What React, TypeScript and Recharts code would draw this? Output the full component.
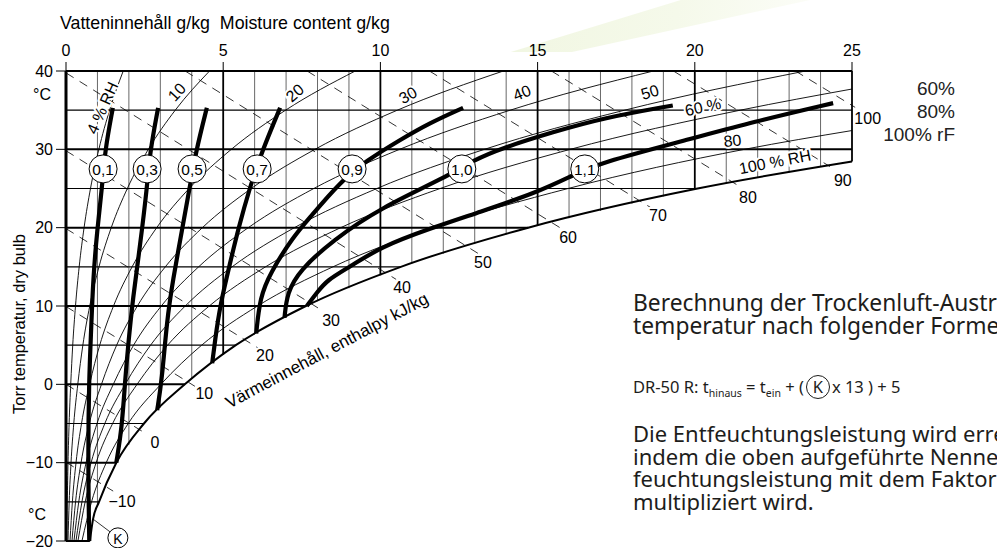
import React from 'react';
import { ComposedChart, Line, XAxis, YAxis, ReferenceLine, ReferenceDot } from 'recharts';

const FONT = '"Liberation Sans", Arial, Helvetica, sans-serif';
const NOTE_FONT = '"Noto Sans", Roboto, sans-serif';

// dry bulb temperatures (°C) the RH curves are read at
const TEMPS = [-20, -15, -10, -5, 0, 5, 10, 15, 20, 25, 30, 35, 40];
const X_TICKS = [0, 5, 10, 15, 20, 25];
const Y_TICKS = [-20, -10, 0, 10, 20, 30, 40];

// saturation curve, 100 % RH (moisture g/kg vs temp)
const SAT_W = [0.76, 0.86, 1.05, 1.6, 2.48, 3.78, 5.4, 7.63, 10.65, 14.7, 20.09, 25];
const SAT_T = [-20, -17.2, -15, -10, -5, 0, 5, 10, 15, 20, 25, 28.45];

// relative humidity curves, moisture g/kg at TEMPS
const RH_04 = [0.025, 0.041, 0.064, 0.099, 0.15, 0.214, 0.302, 0.419, 0.575, 0.779, 1.045, 1.386, 1.82];
const RH_10 = [0.063, 0.101, 0.16, 0.247, 0.375, 0.536, 0.755, 1.049, 1.439, 1.951, 2.618, 3.475, 4.566];
const RH_20 = [0.127, 0.203, 0.319, 0.494, 0.751, 1.073, 1.511, 2.102, 2.885, 3.916, 5.258, 6.985, 9.2];
const RH_30 = [0.19, 0.304, 0.479, 0.74, 1.128, 1.611, 2.27, 3.158, 4.338, 5.893, 7.919, 10.54, 13.91];
const RH_40 = [0.253, 0.406, 0.639, 0.987, 1.504, 2.15, 3.031, 4.218, 5.797, 7.882, 10.61, 14.13, 18.68];
const RH_50 = [0.317, 0.507, 0.798, 1.235, 1.882, 2.69, 3.793, 5.282, 7.265, 9.888, 13.31, 17.77, 23.52];
const RH_60 = [0.38, 0.609, 0.958, 1.483, 2.26, 3.231, 4.557, 6.346, 8.737, 11.9, 16.04, 21.45, 25];
const RH_60_T = [-20, -15, -10, -5, 0, 5, 10, 15, 20, 25, 30, 35, 37.7];
const RH_80 = [0.507, 0.812, 1.28, 1.979, 3.017, 4.315, 6.091, 8.49, 11.7, 15.97, 21.58, 25];
const RH_80_T = [-20, -15, -10, -5, 0, 5, 10, 15, 20, 25, 30, 32.4];

// K factor curves [moisture, temp]
const K_01 = [[1.49, 35.3], [1.24, 29.9], [1.15, 25.2], [0.99, 19.7], [0.86, 13.3], [0.8, 6.9], [0.73, 0.5], [0.7, -10], [0.74, -20]];
const K_03 = [[2.93, 35.3], [2.67, 29.7], [2.58, 25.2], [2.35, 17.5], [2.13, 11.1], [1.97, 4.7], [1.88, 0.5], [1.78, -5.5], [1.6, -10]];
const K_05 = [[4.48, 35.3], [4.13, 29.7], [3.94, 25.2], [3.69, 19.7], [3.4, 13.3], [3.21, 8.2], [3.05, 0.5], [2.9, -3.3]];
const K_07 = [[6.81, 35.3], [6.23, 29.7], [5.85, 25.2], [5.47, 19.7], [5.22, 15.5], [4.9, 10.1], [4.74, 5.6], [4.65, 2.7]];
const K_09 = [[12.63, 35.3], [11.58, 33.4], [10.62, 31.2], [9.57, 28.6], [8.71, 25.8], [7.76, 21.3], [7.22, 18.8], [6.49, 14.2], [6.17, 11.1], [6.05, 6.5]];
const K_10 = [[19.3, 35.6], [17.08, 34.0], [15.49, 32.2], [13.9, 30.2], [12.95, 28.6], [12.12, 26.5], [9.99, 22.5], [8.49, 18.4], [7.44, 14.6], [7.03, 11.7], [6.95, 8.5]];
const K_11 = [[24.4, 35.9], [21.85, 33.5], [19.75, 31.2], [16.98, 28.3], [16.03, 26.5], [14.98, 24.5], [13.17, 22.0], [11.58, 19.9], [9.99, 17.5], [9.03, 15.0], [8.3, 13.3], [7.98, 11.7], [7.66, 10.0]];
const K_NAMES = ['0,1', '0,3', '0,5', '0,7', '0,9', '1,0', '1,1'];
const K_LABEL_W = [1.18, 2.58, 4.01, 6.08, 9.1, 12.59, 16.5];
const K_LABEL_T = 27.5;

// enthalpy lines kJ/kg: start, end and label position [moisture, temp]
const ENTH = [-10, 0, 10, 20, 30, 40, 50, 60, 70, 80, 90, 100];
const ENTH_START = [[0, -9.94], [0, 0], [0, 9.94], [0, 19.88], [0, 29.82], [0, 39.76], [3.79, 40], [7.67, 40], [11.56, 40], [15.44, 40], [19.32, 40], [23.2, 40]];
const ENTH_END = [[1.5, -13.63], [2.45, -6.06], [4.1, -0.25], [6.1, 4.66], [8.2, 9.29], [10.5, 13.4], [13.1, 16.73], [15.8, 19.78], [18.6, 22.56], [21.5, 25.08], [24.3, 27.8], [25.1, 35.36]];
const ENTH_LABEL = [[1.78, -15.0], [2.83, -7.4], [4.4, -1.2], [6.33, 3.7], [8.43, 8.2], [10.69, 12.3], [13.26, 15.6], [15.97, 18.8], [18.83, 21.5], [21.69, 23.9], [24.71, 25.98], [25.5, 34.0]];

// RH curve labels
const RH_TEXT = ['4 % RH', '10', '20', '30', '40', '50', '60 %', '80', '100 % RH'];
const RH_TEXT_POS = [[1.16, 35.3], [3.53, 37.3], [7.28, 37.2], [10.88, 36.9], [14.5, 37.2], [18.57, 37.3], [20.26, 35.4], [21.2, 31.1], [22.55, 28.4]];
const RH_TEXT_ANGLE = [-66, -48, -41, -30, -22, -17, -12, -6, -11];

const toPts = (ws: number[], ts: number[]) => ws.map((w, i) => ({ w, t: ts[i] }));
const pairPts = (arr: number[][]) => arr.map(([w, t]) => ({ w, t }));

const RH_SERIES = [
  toPts(RH_04, TEMPS),
  toPts(RH_10, TEMPS),
  toPts(RH_20, TEMPS),
  toPts(RH_30, TEMPS),
  toPts(RH_40, TEMPS),
  toPts(RH_50, TEMPS),
  toPts(RH_60, RH_60_T),
  toPts(RH_80, RH_80_T),
];
const SAT_PTS = toPts(SAT_W, SAT_T);
const K_SERIES = [K_01, K_03, K_05, K_07, K_09, K_10, K_11].map(pairPts);

// where a grid line meets the saturation curve
function satTempAt(w: number) {
  for (let i = 0; i < SAT_W.length - 1; i++) {
    if (w >= SAT_W[i] && w <= SAT_W[i + 1]) {
      return SAT_T[i] + ((w - SAT_W[i]) / (SAT_W[i + 1] - SAT_W[i])) * (SAT_T[i + 1] - SAT_T[i]);
    }
  }
  return SAT_T[SAT_T.length - 1];
}
function satMoistAt(t: number) {
  if (t >= SAT_T[SAT_T.length - 1]) return 25;
  for (let i = 0; i < SAT_T.length - 1; i++) {
    if (t >= SAT_T[i] && t <= SAT_T[i + 1]) {
      return SAT_W[i] + ((t - SAT_T[i]) / (SAT_T[i + 1] - SAT_T[i])) * (SAT_W[i + 1] - SAT_W[i]);
    }
  }
  return SAT_W[0];
}

const V_GRID = Array.from({ length: 25 }, (_, i) => i + 1);
const H_GRID = Array.from({ length: 13 }, (_, i) => -20 + i * 5);

const textShape = (text: string, angle: number, size = 16) => (p: any) => (
  <text
    x={p.cx}
    y={p.cy}
    transform={`rotate(${angle} ${p.cx} ${p.cy})`}
    textAnchor="middle"
    dominantBaseline="central"
    fontSize={size}
    fontFamily={FONT}
    fill="#000"
    stroke="#fff"
    strokeWidth={4}
    paintOrder="stroke"
  >
    {text}
  </text>
);

const circleShape = (text: string, r: number, size: number) => (p: any) => (
  <g>
    <circle cx={p.cx} cy={p.cy} r={r} fill="#fff" stroke="#000" strokeWidth={1} />
    <text x={p.cx} y={p.cy + 1} textAnchor="middle" dominantBaseline="central" fontSize={size} fontFamily={FONT} fill="#000">
      {text}
    </text>
  </g>
);

const abs = (left: number, top: number, extra: React.CSSProperties = {}): React.CSSProperties => ({
  position: 'absolute',
  left,
  top,
  whiteSpace: 'nowrap',
  ...extra,
});

export default function App() {
  return (
    <div style={{ position: 'relative', width: 997, height: 548, overflow: 'hidden', background: '#fff' }}>
      <style>{'body{margin:0;overflow:hidden}'}</style>
      {/* faint leaf in the background */}
      <div
        style={{
          position: 'absolute',
          left: 470,
          top: 0,
          width: 340,
          height: 52,
          background: 'linear-gradient(100deg, #f0f6e0, #f5f9ea 60%, #fcfdf8)',
          clipPath: 'polygon(12% 100%, 62% 0, 100% 0, 30% 100%)',
        }}
      />
      <div style={{ position: 'absolute', left: 0, top: 0 }}>
        <ComposedChart width={997} height={548} margin={{ top: 41, right: 145, bottom: 7, left: 26 }}>
          <XAxis
            xAxisId={0}
            type="number"
            dataKey="w"
            orientation="top"
            domain={[0, 25]}
            ticks={X_TICKS}
            interval={0}
            height={30}
            axisLine={false}
            tickSize={9}
            tickMargin={6}
            tickLine={{ stroke: '#000', strokeWidth: 1 }}
            tick={{ fill: '#000', fontSize: 16, fontFamily: FONT }}
          />
          <YAxis
            yAxisId={0}
            type="number"
            domain={[-20, 40]}
            ticks={Y_TICKS}
            interval={0}
            width={40}
            axisLine={false}
            tickSize={10}
            tickMargin={3}
            tickLine={{ stroke: '#000', strokeWidth: 1 }}
            tick={{ fill: '#000', fontSize: 16, fontFamily: FONT }}
            tickFormatter={(v: number) => String(v).replace('-', '\u2212')}
          />

          {/* grid, clipped at the saturation curve */}
          {V_GRID.map((k) => (
            <ReferenceLine
              key={`v${k}`}
              segment={[{ x: k, y: 40 }, { x: k, y: satTempAt(k) }]}
              stroke="#000"
              strokeWidth={k % 5 === 0 ? 1.8 : 0.6}
              ifOverflow="visible"
              zIndex={300}
            />
          ))}
          {H_GRID.map((t) => (
            <ReferenceLine
              key={`h${t}`}
              segment={[{ x: 0, y: t }, { x: satMoistAt(t), y: t }]}
              stroke="#000"
              strokeWidth={t % 10 === 0 ? 2 : 1.1}
              ifOverflow="visible"
              zIndex={300}
            />
          ))}
          <ReferenceLine segment={[{ x: 0, y: 40 }, { x: 0, y: -20 }]} stroke="#000" strokeWidth={3} ifOverflow="visible" zIndex={300} />

          {/* enthalpy, dashed */}
          {ENTH.map((h, i) => (
            <ReferenceLine
              key={`e${h}`}
              segment={[{ x: ENTH_START[i][0], y: ENTH_START[i][1] }, { x: ENTH_END[i][0], y: ENTH_END[i][1] }]}
              stroke="#000"
              strokeWidth={0.8}
              strokeDasharray="9 7"
              ifOverflow="visible"
              zIndex={320}
            />
          ))}

          {/* relative humidity curves */}
          {RH_SERIES.map((pts, i) => (
            <Line
              key={`rh${i}`}
              data={pts}
              dataKey="t"
              type="monotone"
              stroke="#000"
              strokeWidth={0.9}
              dot={false}
              activeDot={false}
              legendType="none"
              isAnimationActive={false}
            />
          ))}
          <Line
            data={SAT_PTS}
            dataKey="t"
            type="monotone"
            stroke="#000"
            strokeWidth={2}
            dot={false}
            activeDot={false}
            legendType="none"
            isAnimationActive={false}
          />

          {/* K factor curves */}
          {K_SERIES.map((pts, i) => (
            <Line
              key={`k${i}`}
              data={pts}
              dataKey="t"
              type="basis"
              stroke="#000"
              strokeWidth={4.2}
              dot={false}
              activeDot={false}
              legendType="none"
              isAnimationActive={false}
            />
          ))}

          {/* leader to the K point */}
          <ReferenceLine segment={[{ x: 0.86, y: -17.2 }, { x: 1.4, y: -18.83 }]} stroke="#000" strokeWidth={0.8} ifOverflow="visible" zIndex={500} />

          {K_NAMES.map((name, i) => (
            <ReferenceDot key={name} x={K_LABEL_W[i]} y={K_LABEL_T} r={14} ifOverflow="visible" shape={circleShape(name, 14, 15.5)} zIndex={700} />
          ))}
          <ReferenceDot x={1.65} y={-19.6} r={10} ifOverflow="visible" shape={circleShape('K', 10, 14)} zIndex={700} />

          {RH_TEXT.map((txt, i) => (
            <ReferenceDot
              key={`rt${i}`}
              x={RH_TEXT_POS[i][0]}
              y={RH_TEXT_POS[i][1]}
              r={0}
              ifOverflow="visible"
              shape={textShape(txt, RH_TEXT_ANGLE[i], 16)}
              zIndex={800}
            />
          ))}
          {ENTH.map((h, i) => (
            <ReferenceDot
              key={`et${h}`}
              x={ENTH_LABEL[i][0]}
              y={ENTH_LABEL[i][1]}
              r={0}
              ifOverflow="visible"
              shape={textShape(String(h).replace('-', '\u2212'), 0, 16)}
              zIndex={800}
            />
          ))}
          <ReferenceDot x={8.3} y={4.3} r={0} ifOverflow="visible" shape={textShape('Värmeinnehåll, enthalpy kJ/kg', -28, 17)} zIndex={800} />
        </ComposedChart>
      </div>

      {/* axis titles */}
      <div style={abs(60, 14, { fontFamily: FONT, fontSize: 17.8, lineHeight: '18px', color: '#000' })}>
        Vatteninnehåll g/kg{'\u00a0\u00a0'}Moisture content g/kg
      </div>
      <div style={abs(33, 86, { fontFamily: FONT, fontSize: 16, lineHeight: '18px' })}>°C</div>
      <div style={abs(28, 506, { fontFamily: FONT, fontSize: 16, lineHeight: '18px' })}>°C</div>
      <div
        style={abs(19, 324, {
          fontFamily: FONT,
          fontSize: 16.5,
          lineHeight: '18px',
          transform: 'translate(-50%, -50%) rotate(-90deg)',
        })}
      >
        Torr temperatur, dry bulb
      </div>

      {/* right hand notes */}
      <div style={{ position: 'absolute', right: 42, top: 77, textAlign: 'right', fontFamily: FONT, fontSize: 19, lineHeight: '23px', color: '#222' }}>
        60%
        <br />
        80%
        <br />
        100% rF
      </div>
      <div style={abs(633, 291, { fontFamily: NOTE_FONT, fontSize: 22.8, lineHeight: '23px', color: '#1d1d1b' })}>
        Berechnung der Trockenluft-Austritts-
        <br />
        temperatur nach folgender Formel:
      </div>
      <div style={abs(633, 375, { fontFamily: NOTE_FONT, fontSize: 16.5, lineHeight: '24px', color: '#1d1d1b' })}>
        DR-50 R: t<sub style={{ fontSize: 10.5 }}>hinaus</sub> = t<sub style={{ fontSize: 10.5 }}>ein</sub> + (
        <span
          style={{
            display: 'inline-block',
            width: 22,
            height: 22,
            lineHeight: '22px',
            border: '1px solid #1d1d1b',
            borderRadius: '50%',
            textAlign: 'center',
            margin: '0 2px',
          }}
        >
          K
        </span>
        x 13 ) + 5
      </div>
      <div style={abs(633, 422, { fontFamily: NOTE_FONT, fontSize: 22, lineHeight: '22.5px', color: '#1d1d1b' })}>
        Die Entfeuchtungsleistung wird errechnet,
        <br />
        indem die oben aufgeführte Nennent-
        <br />
        feuchtungsleistung mit dem Faktor
        <br />
        multipliziert wird.
      </div>
    </div>
  );
}
